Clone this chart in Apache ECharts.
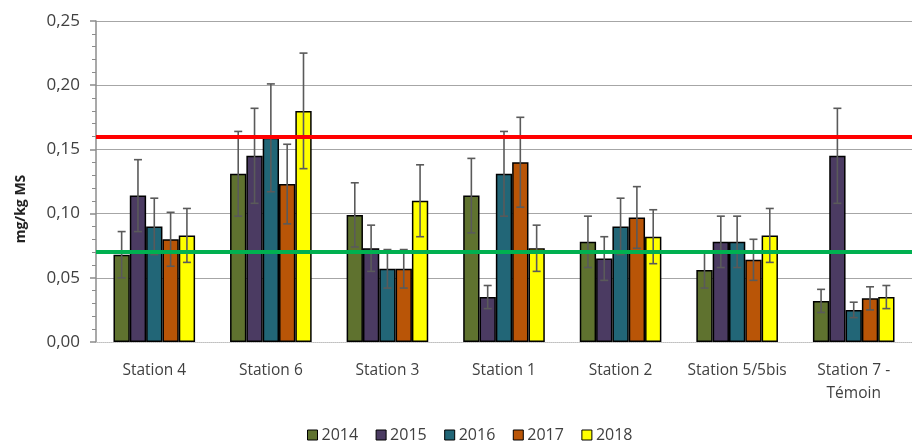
<!DOCTYPE html>
<html><head><meta charset="utf-8">
<script src="https://cdn.jsdelivr.net/npm/echarts@6/dist/echarts.min.js"></script>
<style>html,body{margin:0;padding:0;background:#fff}#c{width:912px;height:442px}</style>
</head><body><div id="c"></div>
<script>
var categories = ['Station 4','Station 6','Station 3','Station 1','Station 2','Station 5/5bis','Station 7 -\nTémoin'];
var years = ['2014','2015','2016','2017','2018'];
var v2014 = [0.068, 0.131, 0.099, 0.114, 0.078, 0.056, 0.032];
var v2015 = [0.114, 0.145, 0.073, 0.035, 0.065, 0.078, 0.145];
var v2016 = [0.090, 0.159, 0.057, 0.131, 0.090, 0.078, 0.025];
var v2017 = [0.080, 0.123, 0.057, 0.140, 0.097, 0.064, 0.034];
var v2018 = [0.083, 0.180, 0.110, 0.073, 0.082, 0.083, 0.035];
var e2014 = [0.018, 0.033, 0.025, 0.029, 0.020, 0.014, 0.009];
var e2015 = [0.028, 0.037, 0.018, 0.009, 0.017, 0.020, 0.037];
var e2016 = [0.022, 0.042, 0.015, 0.033, 0.022, 0.020, 0.006];
var e2017 = [0.021, 0.031, 0.015, 0.035, 0.024, 0.016, 0.009];
var e2018 = [0.021, 0.045, 0.028, 0.018, 0.021, 0.021, 0.009];
var redLimit = 0.16;
var greenLimit = 0.07;
var yTitle = 'mg/kg MS';

var values = [v2014, v2015, v2016, v2017, v2018];
var errors = [e2014, e2015, e2016, e2017, e2018];
var colors = ['#5f722f', '#4b3b62', '#226677', '#b95507', '#ffff00'];
var catGap = 0.30;
var font = 'Open Sans';

var series = [];
years.forEach(function (y, i) {
  var s = {
    name: y, type: 'bar', data: values[i], barGap: '0%', barCategoryGap: (catGap * 100) + '%',
    itemStyle: { color: colors[i], borderColor: '#000', borderWidth: 1.5 },
    z: 2
  };
  if (i === 0) {
    s.markLine = {
      silent: true, symbol: 'none', label: { show: false },
      data: [
        { yAxis: redLimit, lineStyle: { color: '#ff0000', width: 4, type: 'solid' } },
        { yAxis: greenLimit, lineStyle: { color: '#00b050', width: 4, type: 'solid' } }
      ],
      z: 5
    };
  }
  series.push(s);
});
years.forEach(function (y, i) {
  var data = values[i].map(function (v, k) { return [k, v - errors[i][k], v + errors[i][k]]; });
  series.push({
    type: 'custom', name: y + '_err', silent: true, z: 4,
    data: data, encode: { x: 0, y: [1, 2] },
    renderItem: function (params, api) {
      var k = api.value(0);
      var lo = api.coord([k, api.value(1)]);
      var hi = api.coord([k, api.value(2)]);
      var band = api.size([1, 0])[0];
      var bw = band * (1 - catGap) / 5;
      var x = lo[0] + (i - 2) * bw;
      var cap = 4;
      var st = { stroke: '#5a5a5a', lineWidth: 1.6 };
      return { type: 'group', children: [
        { type: 'line', shape: { x1: x, y1: lo[1], x2: x, y2: hi[1] }, style: st },
        { type: 'line', shape: { x1: x - cap, y1: lo[1], x2: x + cap, y2: lo[1] }, style: st },
        { type: 'line', shape: { x1: x - cap, y1: hi[1], x2: x + cap, y2: hi[1] }, style: st }
      ]};
    }
  });
});

var chart = echarts.init(document.getElementById('c'), null, { renderer: 'canvas' });
chart.setOption({
  animation: false,
  textStyle: { fontFamily: font },
  grid: { left: 96, right: -7, top: 21, bottom: 100, containLabel: false },
  graphic: [{
    type: 'text', x: 21, y: 209, rotation: Math.PI / 2,
    style: { text: yTitle, fontFamily: font, fontSize: 14, fontWeight: 'bold', fill: '#222',
      align: 'center', verticalAlign: 'middle' }
  }],
  legend: {
    data: years.map(function (y, i) { return { name: y, itemStyle: { color: colors[i], borderColor: '#000', borderWidth: 1 } }; }),
    top: 422, left: 302, icon: 'rect', itemWidth: 10, itemHeight: 10, itemGap: 17.5,
    textStyle: { fontFamily: font, fontSize: 16, color: '#404040', padding: [0, 0, 0, -1] }
  },
  xAxis: {
    type: 'category', data: categories,
    axisLine: { lineStyle: { color: '#d0d0d0', type: 'dotted', width: 1 } },
    axisTick: { show: false },
    axisLabel: { color: '#404040', fontSize: 15.5, margin: 17, lineHeight: 23, interval: 0, fontFamily: font }
  },
  yAxis: {
    type: 'value', min: 0, max: 0.25, interval: 0.05,
    axisLine: { show: true, lineStyle: { color: '#8c8c8c', width: 1.5 } },
    axisTick: { show: true, inside: false, length: 6, lineStyle: { color: '#8c8c8c', width: 1.5 } },
    minorTick: { show: true, splitNumber: 5, length: 4, lineStyle: { color: '#8c8c8c', width: 1 } },
    splitLine: { show: true, lineStyle: { color: '#a6a6a6', width: 1.2 } },
    axisLabel: { color: '#404040', fontSize: 17, margin: 16, fontFamily: font,
      formatter: function (v) { return v.toFixed(2).replace('.', ','); } }
  },
  series: series
});
</script></body></html>
